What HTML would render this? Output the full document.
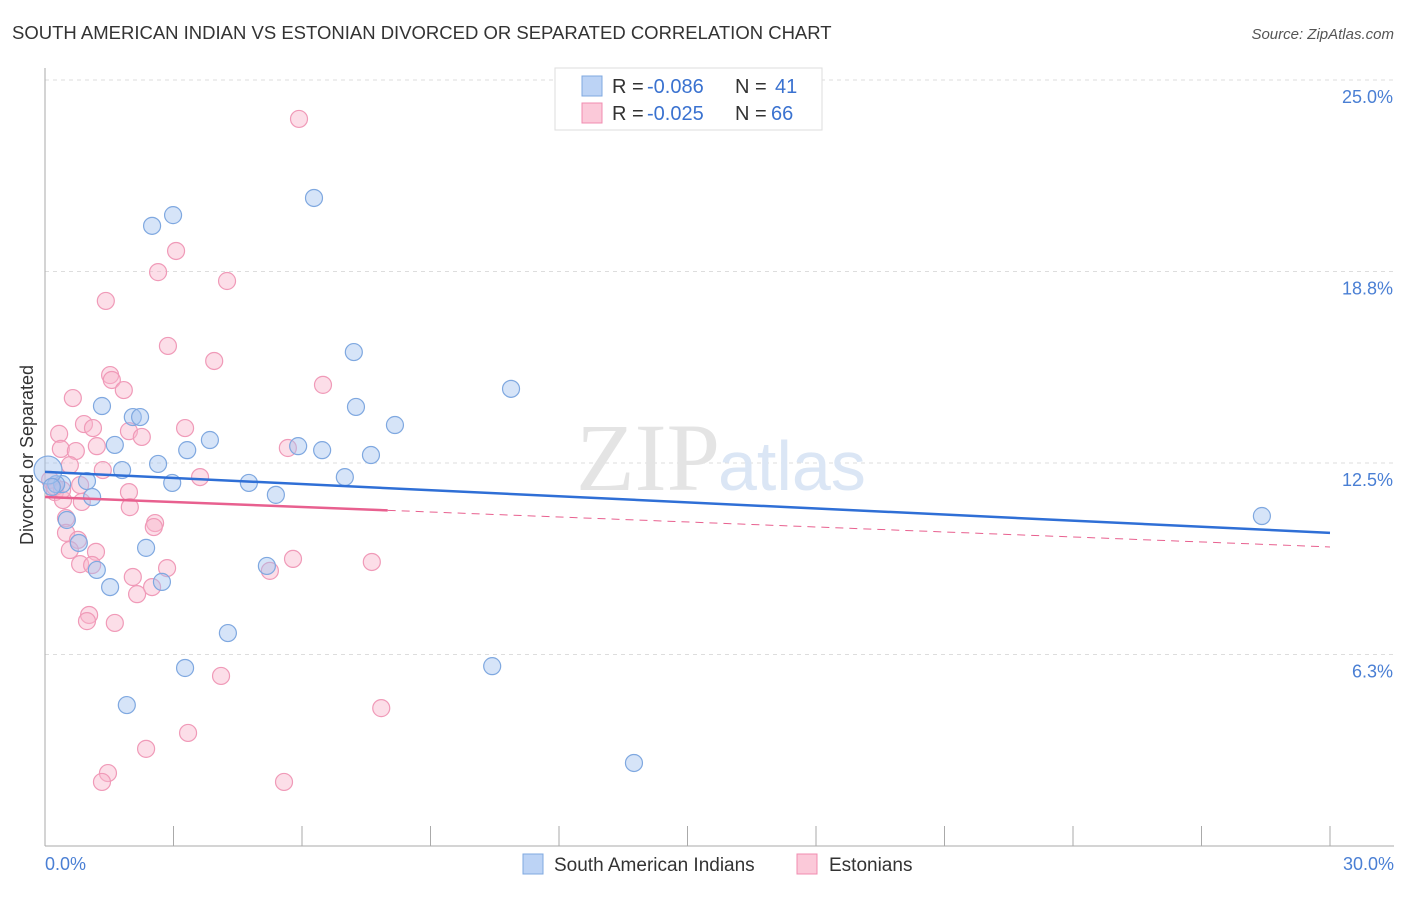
<!DOCTYPE html>
<html><head><meta charset="utf-8"><style>
body{margin:0;background:#fff;font-family:"Liberation Sans",sans-serif;}
svg text{font-family:"Liberation Sans",sans-serif;}
</style></head><body>
<svg width="1406" height="892" xmlns="http://www.w3.org/2000/svg">
<text x="12" y="39" font-size="18.5" fill="#333">SOUTH AMERICAN INDIAN VS ESTONIAN DIVORCED OR SEPARATED CORRELATION CHART</text>
<text x="1394" y="39" font-size="15" fill="#555" text-anchor="end" font-style="italic">Source: ZipAtlas.com</text>
<g id="grid"></g>
<text x="720" y="490" font-size="96" fill="#e4e4e4" text-anchor="end" style="font-family:'Liberation Serif',serif">ZIP</text>
<text x="718" y="490" font-size="70" fill="#dbe6f5">atlas</text>
<g id="axes"></g>
<g id="pts"></g>
<g id="trend"></g>
<text x="33" y="455" font-size="18" fill="#333" text-anchor="middle" transform="rotate(-90 33 455)">Divorced or Separated</text>
<text x="45" y="870" font-size="18" fill="#4a7fd4">0.0%</text>
<text x="1394" y="870" font-size="18" fill="#4a7fd4" text-anchor="end">30.0%</text>
<g>
<rect x="555" y="68" width="267" height="62" fill="#fff" stroke="#ddd"/>
<rect x="582" y="76" width="20" height="20" fill="#bcd3f5" stroke="#7fa8e0"/>
<rect x="582" y="103" width="20" height="20" fill="#fbc9d9" stroke="#f08cb0"/>
<text x="612" y="93" font-size="20" fill="#333">R =</text>
<text x="647" y="93" font-size="20" fill="#3a72d0">-0.086</text>
<text x="735" y="93" font-size="20" fill="#333">N =</text>
<text x="775" y="93" font-size="20" fill="#3a72d0">41</text>
<text x="612" y="120" font-size="20" fill="#333">R =</text>
<text x="647" y="120" font-size="20" fill="#3a72d0">-0.025</text>
<text x="735" y="120" font-size="20" fill="#333">N =</text>
<text x="771" y="120" font-size="20" fill="#3a72d0">66</text>
</g>
<g>
<rect x="523" y="854" width="20" height="20" fill="#bcd3f5" stroke="#7fa8e0"/>
<text x="554" y="871" font-size="19" fill="#333">South American Indians</text>
<rect x="797" y="854" width="20" height="20" fill="#fbc9d9" stroke="#f08cb0"/>
<text x="829" y="871" font-size="19" fill="#333">Estonians</text>
</g>
</svg>
<script>
const yTicks=[6.25,12.5,18.75,25];
const yTickLabels=["6.3%","12.5%","18.8%","25.0%"];
const blueX=[2.50,2.99,6.28,7.21,10.88,1.33,2.05,2.22,7.26,8.17,1.63,3.85,3.32,5.91,6.47,2.64,1.80,7.61,7.00,2.97,4.76,5.39,0.98,0.40,0.26,1.10,0.51,0.79,2.36,1.21,5.18,1.52,2.73,4.27,3.27,10.44,1.91,13.75,28.41,0.07,0.16];
const blueY=[20.24,20.59,21.15,16.12,14.92,14.36,14.00,14.00,14.33,13.74,13.09,13.25,12.92,13.05,12.92,12.47,12.27,12.76,12.04,11.85,11.85,11.46,11.91,11.81,11.81,11.39,10.64,9.89,9.73,9.01,9.14,8.45,8.62,6.95,5.81,5.87,4.60,2.71,10.77,12.27,11.72];
const pinkX=[5.93,3.06,2.64,4.25,1.42,2.87,3.95,1.52,1.56,1.84,6.49,0.65,0.91,0.33,1.12,1.96,2.26,3.27,0.37,0.72,1.21,5.67,0.58,1.35,3.62,1.96,0.23,0.42,0.86,1.98,0.49,2.57,2.54,0.49,0.77,0.58,1.19,0.82,1.10,2.85,5.79,7.63,5.25,2.05,2.50,2.15,1.03,0.98,1.63,4.11,7.85,3.34,2.36,1.47,1.33,5.58,0.12,0.23,0.40,0.82];
const pinkY=[23.73,19.42,18.73,18.44,17.79,16.32,15.83,15.37,15.21,14.88,15.05,14.62,13.77,13.45,13.64,13.54,13.35,13.64,12.96,12.89,13.05,12.99,12.43,12.27,12.04,11.55,11.55,11.29,11.23,11.06,10.70,10.54,10.41,10.22,9.99,9.66,9.60,9.20,9.17,9.07,9.37,9.27,8.98,8.78,8.45,8.22,7.54,7.34,7.28,5.55,4.50,3.69,3.17,2.38,2.09,2.09,11.95,11.72,11.62,11.78];
const blueTrend=[12.21,10.22];
const pinkTrend=[11.39,9.76];
const pinkSolidEnd=8;
const NS="http://www.w3.org/2000/svg";
const sx=v=>45+v*(1285/30);
const sy=v=>846-v*30.64;
function mk(t,a,p){const e=document.createElementNS(NS,t);for(const k in a)e.setAttribute(k,a[k]);p.appendChild(e);return e;}
const grid=document.getElementById('grid');
yTicks.forEach((t,i)=>{
 const l=mk('line',{x1:45,x2:1394,y1:sy(t),y2:sy(t),stroke:'#ddd','stroke-dasharray':'4,4'},grid);
 
 
 const tx=mk('text',{x:1393,y:sy(t)+23,'font-size':18,fill:'#4a7fd4','text-anchor':'end'},grid);
 tx.textContent=yTickLabels[i];
 
 
});
const ax=document.getElementById('axes');
mk('line',{x1:45,x2:45,y1:68,y2:846,stroke:'#aaa'},ax);
mk('line',{x1:45,x2:1394,y1:846,y2:846,stroke:'#aaa'},ax);
for(let i=0;i<=10;i++){const t=mk('line',{x1:sx(i*3),x2:sx(i*3),y1:826,y2:846,stroke:'#aaa'},ax);
 
 }
const pts=document.getElementById('pts');
function dots(X,Y,f,s,n){X.forEach((x,i)=>{const r=(i===X.length-(n==='blue-point'?2:99))?14:8.5;
 const c=mk('circle',{cx:sx(x),cy:sy(Y[i]),r:r,fill:f,stroke:s,'stroke-width':1.2},pts);
 
 });}
dots(pinkX,pinkY,'rgba(248,182,204,0.45)','#f09ab8','pink-point');
dots(blueX,blueY,'rgba(164,196,240,0.45)','#7fa8e0','blue-point');
const tr=document.getElementById('trend');
let b=mk('line',{x1:sx(0),y1:sy(blueTrend[0]),x2:sx(30),y2:sy(blueTrend[1]),stroke:'#2f6fd6','stroke-width':2.5},tr);


const pm=pinkTrend[0]+(pinkTrend[1]-pinkTrend[0])*pinkSolidEnd/30;
let p1=mk('line',{x1:sx(0),y1:sy(pinkTrend[0]),x2:sx(pinkSolidEnd),y2:sy(pm),stroke:'#e8608f','stroke-width':2.5},tr);


let p2=mk('line',{x1:sx(pinkSolidEnd),y1:sy(pm),x2:sx(30),y2:sy(pinkTrend[1]),stroke:'#e8608f','stroke-width':1,'stroke-dasharray':'8,6'},tr);


</script>
</body></html>
